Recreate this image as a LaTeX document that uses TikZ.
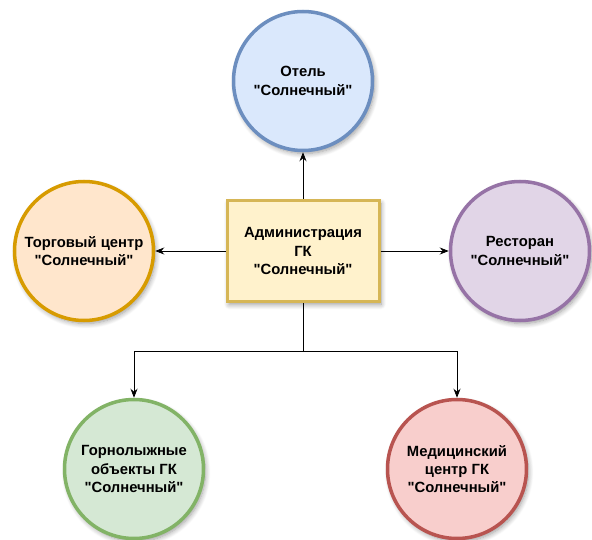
\documentclass[tikz,border=0pt]{standalone}
\usepackage{fontspec}
\setmainfont{Liberation Sans}[Ligatures=TeXOff]
\usetikzlibrary{arrows.meta,shadows.blur}

\definecolor{hotelfill}{HTML}{DAE8FC}
\definecolor{hoteldraw}{HTML}{6C8EBF}
\definecolor{mallfill}{HTML}{FFE6CC}
\definecolor{malldraw}{HTML}{D79B00}
\definecolor{admfill}{HTML}{FFF2CC}
\definecolor{admdraw}{HTML}{D6B656}
\definecolor{restfill}{HTML}{E1D5E7}
\definecolor{restdraw}{HTML}{9673A6}
\definecolor{skifill}{HTML}{D5E8D4}
\definecolor{skidraw}{HTML}{82B366}
\definecolor{medfill}{HTML}{F8CECC}
\definecolor{meddraw}{HTML}{B85450}

\begin{document}
\begin{tikzpicture}[x=1pt,y=-1pt,
  txt/.style={align=center,font=\bfseries\fontsize{14.8}{18.3}\selectfont},
  unit/.style={txt,circle,minimum size=139pt,inner sep=0pt,line width=3.5pt,
    blur shadow={shadow xshift=2pt,shadow yshift=-3pt,shadow blur steps=8,shadow blur radius=5pt,shadow opacity=40}},
  head/.style={txt,rectangle,minimum width=152pt,minimum height=101pt,line width=3pt,
    blur shadow={shadow xshift=2pt,shadow yshift=-3pt,shadow blur steps=8,shadow blur radius=5pt,shadow opacity=40}},
  arr/.style={-{Stealth[length=9pt,width=7pt]},line width=0.8pt}]
\useasboundingbox (0,0) rectangle (592,540);

\node[head,fill=admfill,draw=admdraw] (adm) at (303,251) {Администрация\\ГК\\"Солнечный"};

\node[unit,fill=hotelfill,draw=hoteldraw] (hotel) at (303,81) {Отель\\"Солнечный"};
\node[unit,fill=mallfill,draw=malldraw] (mall) at (84,251) {Торговый центр\\"Солнечный"};
\node[unit,fill=restfill,draw=restdraw] (rest) at (520,251) {Ресторан\\"Солнечный"};
\node[unit,fill=skifill,draw=skidraw] (ski) at (134,469) {Горнолыжные\\объекты ГК\\"Солнечный"};
\node[unit,fill=medfill,draw=meddraw] (med) at (457,469) {Медицинский\\центр ГК\\"Солнечный"};

\coordinate (split) at (303,351);

\draw[arr] (adm) -- (hotel);
\draw[arr] (adm) -- (mall);
\draw[arr] (adm) -- (rest);
\draw[line width=0.8pt] (adm.south) -- (split);
\draw[arr] (split) -| (ski);
\draw[arr] (split) -| (med);
\end{tikzpicture}
\end{document}
